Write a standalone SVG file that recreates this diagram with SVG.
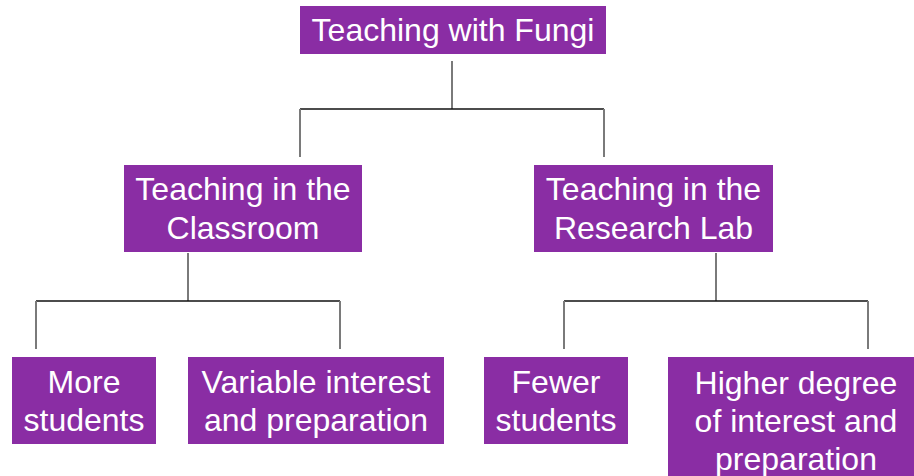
<svg xmlns="http://www.w3.org/2000/svg" width="914" height="476" viewBox="0 0 914 476">
  <style>
    .box { fill: #8a2da4; }
    .label { font-family: "Liberation Sans", Arial, sans-serif; font-size: 32px; fill: #ffffff; text-anchor: middle; }
    .stem { stroke: #7a7a7a; stroke-width: 2; fill: none; }
    .bar { stroke: #111111; stroke-width: 1.6; fill: none; }
  </style>
  <rect width="914" height="476" fill="#ffffff"/>

  <g id="connectors">
    <!-- root to level 1 -->
    <line class="stem" x1="452" y1="61" x2="452" y2="109"/>
    <line class="bar" x1="300" y1="109" x2="604" y2="109"/>
    <line class="stem" x1="300" y1="109" x2="300" y2="157"/>
    <line class="stem" x1="604" y1="109" x2="604" y2="157"/>
    <!-- classroom branch -->
    <line class="stem" x1="188" y1="253" x2="188" y2="301"/>
    <line class="bar" x1="36" y1="301" x2="340" y2="301"/>
    <line class="stem" x1="36" y1="301" x2="36" y2="349"/>
    <line class="stem" x1="340" y1="301" x2="340" y2="349"/>
    <!-- research lab branch -->
    <line class="stem" x1="716" y1="253" x2="716" y2="301"/>
    <line class="bar" x1="564" y1="301" x2="868" y2="301"/>
    <line class="stem" x1="564" y1="301" x2="564" y2="349"/>
    <line class="stem" x1="868" y1="301" x2="868" y2="349"/>
  </g>

  <g id="root">
    <rect class="box" x="300" y="6" width="306" height="48"/>
    <text class="label" x="453" y="41">Teaching with Fungi</text>
  </g>

  <g id="classroom">
    <rect class="box" x="124" y="165" width="238" height="87"/>
    <text class="label" x="243" y="200">Teaching in the</text>
    <text class="label" x="243" y="239">Classroom</text>
  </g>

  <g id="research-lab">
    <rect class="box" x="534" y="165" width="239" height="87"/>
    <text class="label" x="653.5" y="200">Teaching in the</text>
    <text class="label" x="653.5" y="239">Research Lab</text>
  </g>

  <g id="more-students">
    <rect class="box" x="12" y="357" width="144" height="87"/>
    <text class="label" x="84" y="393">More</text>
    <text class="label" x="84" y="431">students</text>
  </g>

  <g id="variable-interest">
    <rect class="box" x="188" y="357" width="256" height="87"/>
    <text class="label" x="316" y="393">Variable interest</text>
    <text class="label" x="316" y="431">and preparation</text>
  </g>

  <g id="fewer-students">
    <rect class="box" x="484" y="357" width="144" height="87"/>
    <text class="label" x="556" y="393">Fewer</text>
    <text class="label" x="556" y="431">students</text>
  </g>

  <g id="higher-degree">
    <rect class="box" x="668" y="357" width="256" height="130"/>
    <text class="label" x="796" y="394">Higher degree</text>
    <text class="label" x="796" y="432">of interest and</text>
    <text class="label" x="796" y="470">preparation</text>
  </g>
</svg>
